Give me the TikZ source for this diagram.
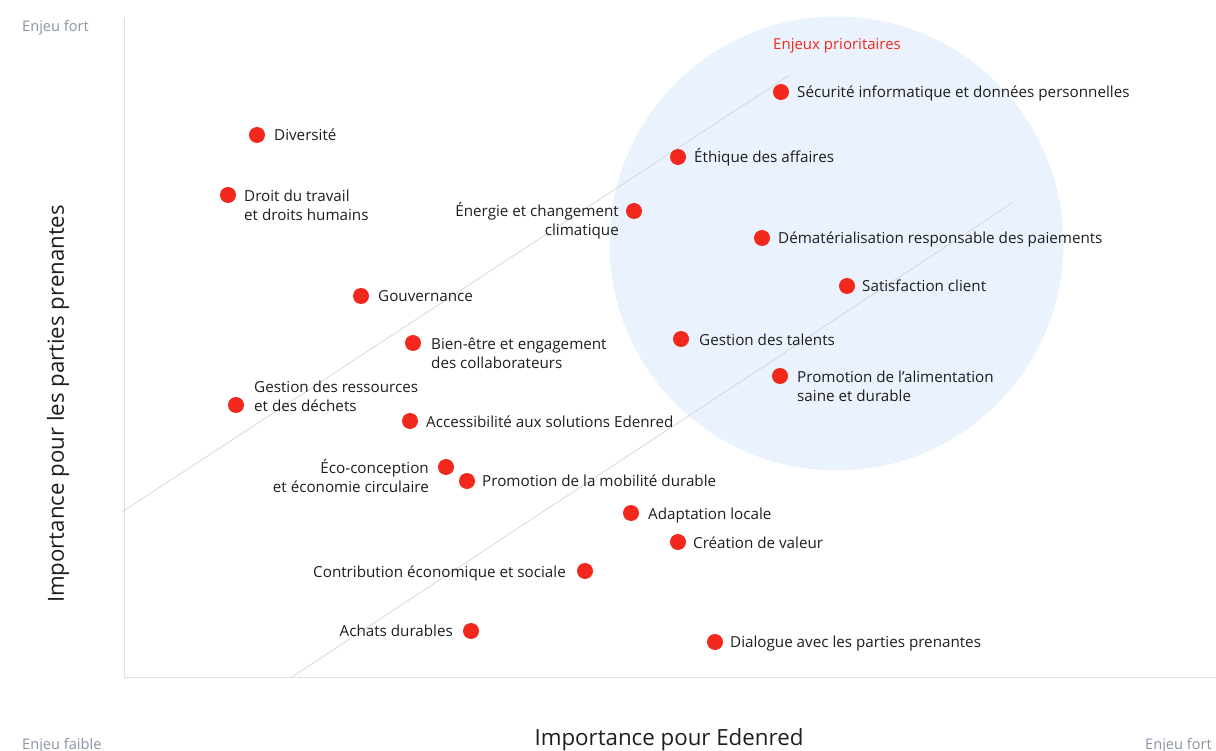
\documentclass[tikz,border=0pt]{standalone}
\usepackage{fontspec}
\setmainfont{Open Sans}
\usepackage{xcolor}
\usepackage{tikz}
\usetikzlibrary{positioning}

\definecolor{dotred}{HTML}{F2281C}
\definecolor{txtdark}{HTML}{1E1E1E}
\definecolor{axisgray}{HTML}{DCDEE2}
\definecolor{diaggray}{HTML}{D8D8D8}
\definecolor{softgray}{HTML}{8A93A3}
\definecolor{zoneblue}{HTML}{EAF2FD}

\begin{document}
\begin{tikzpicture}[x=1pt, y=-1pt,
    dot/.style={circle, fill=dotred, inner sep=0pt, minimum size=16pt},
    lbl/.style={anchor=west, inner sep=0pt, text=txtdark, text height=12pt, text depth=2pt, font=\fontsize{15.2}{19}\selectfont},
    lblr/.style={lbl, anchor=east},
    multi/.style={anchor=west, inner sep=0pt, text=txtdark, align=left, font=\fontsize{15.2}{19}\selectfont},
    multir/.style={multi, anchor=east, align=right},
    hint/.style={inner sep=0pt, text=softgray, text height=11pt, text depth=3pt, font=\fontsize{14.6}{16}\selectfont}]
                \useasboundingbox (0,0) rectangle (1216,751);
                % priority zone
                \fill[zoneblue] (836.5,243.5) circle (227);
                \node[anchor=west, inner sep=0pt, text=dotred, font=\fontsize{15}{16}\selectfont] (prio) at (773,46) {Enjeux prioritaires};
                % axes and guide lines
                \coordinate (top) at (124,18);
                \coordinate (origin) at (124,677);
                \coordinate (right) at (1216,677);
                \draw[axisgray, line width=1pt] (top) -- (origin) -- (right);
                \coordinate (d1a) at (122,512);
                \coordinate (d1b) at (788,76);
                \coordinate (d2a) at (292,677);
                \coordinate (d2b) at (1012,203);
                \draw[diaggray, line width=0.8pt] (d1a) -- (d1b);
                \draw[diaggray, line width=0.8pt] (d2a) -- (d2b);
                % axis texts
                \node[hint, anchor=west] (hfort) at (22,28) {Enjeu fort};
                \node[hint, anchor=west] (hfaible) at (22,745) {Enjeu faible};
                \node[hint, anchor=west] (vfort) at (1145,745) {Enjeu fort};
                \node[inner sep=0pt, text=txtdark, font=\fontsize{22.3}{24}\selectfont] (xtitle) at (669,740) {Importance pour Edenred};
                \node[inner sep=0pt, text=txtdark, font=\fontsize{22.2}{24}\selectfont, rotate=90] (ytitle) at (58,404) {Importance pour les parties prenantes};
                % inside the zone
                \node[dot] (secu) at (781,92) {};
                \node[lbl] (secut) at (797,93) {Sécurité informatique et données personnelles};
                \node[dot] (ethi) at (678,157) {};
                \node[lbl] (ethit) at (694,158) {Éthique des affaires};
                \node[dot] (ener) at (634,211) {};
                \node[multir] (enert) at (619,221) {Énergie et changement\\climatique};
                \node[dot] (dema) at (762,238) {};
                \node[lbl] (demat) at (778,239) {Dématérialisation responsable des paiements};
                \node[dot] (sati) at (847,286) {};
                \node[lbl] (satit) at (862,287) {Satisfaction client};
                \node[dot] (tale) at (681,339) {};
                \node[lbl] (talet) at (699,340) {Gestion des talents};
                \node[dot] (alim) at (780,376) {};
                \node[multi] (alimt) at (797,386) {Promotion de l’alimentation\\saine et durable};
                % outside the zone
                \node[dot] (dive) at (257,135) {};
                \node[lbl] (divet) at (274,136) {Diversité};
                \node[dot] (droi) at (228,195) {};
                \node[multi] (droit) at (244,205) {Droit du travail\\et droits humains};
                \node[dot] (gouv) at (361,296) {};
                \node[lbl] (gouvt) at (378,297) {Gouvernance};
                \node[dot] (bien) at (413,343) {};
                \node[multi] (bient) at (431,353) {Bien-être et engagement\\des collaborateurs};
                \node[dot] (ress) at (236,405) {};
                \node[multi] (resst) at (254,396) {Gestion des ressources\\et des déchets};
                \node[dot] (acce) at (410,421) {};
                \node[lbl] (accet) at (426,422) {Accessibilité aux solutions Edenred};
                \node[dot] (ecoc) at (446,467) {};
                \node[multir] (ecoct) at (429,476) {Éco-conception\\et économie circulaire};
                \node[dot] (mobi) at (467,481) {};
                \node[lbl] (mobit) at (482,481) {Promotion de la mobilité durable};
                \node[dot] (adap) at (631,513) {};
                \node[lbl] (adapt) at (648,514) {Adaptation locale};
                \node[dot] (crea) at (678,542) {};
                \node[lbl] (creat) at (693,543) {Création de valeur};
                \node[dot] (cont) at (585,571) {};
                \node[lblr] (contt) at (566,572) {Contribution économique et sociale};
                \node[dot] (acha) at (471,631) {};
                \node[lblr] (achat) at (453,631) {Achats durables};
                \node[dot] (dial) at (715,642) {};
                \node[lbl] (dialt) at (730,642) {Dialogue avec les parties prenantes};
            \end{tikzpicture}
\end{document}
